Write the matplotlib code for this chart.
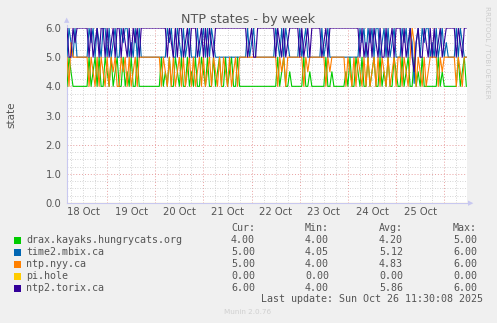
import numpy as np
import pandas as pd
import matplotlib
matplotlib.use("Agg")
import matplotlib.pyplot as plt
import matplotlib.dates as mdates
from matplotlib.patches import Rectangle

# hourly samples, starting Oct 18 04:00
start_time = "2025-10-18 04:00"

drax = [4, 5, 4.5, 4, 4, 4, 4, 4, 4, 4, 4, 5, 4, 4.5, 5, 4, 5, 4, 4, 5,
        4.5, 4, 5, 4, 4.5, 5, 4, 4, 5, 4, 4.5, 4, 5, 4, 4, 5, 4, 4, 4, 4,
        4, 4, 4, 4, 4, 4, 4, 5, 4, 4.5, 4, 5, 4, 4, 5, 4.5, 4, 5, 4, 4,
        5, 4, 4.5, 4, 5, 4, 4, 5, 4.5, 4, 5, 4, 4, 5, 4, 4.5, 5, 4, 4, 5,
        4, 4.5, 5, 4, 4, 5, 4, 4, 4, 4, 4, 4, 4, 4, 4, 4, 4, 4, 4, 4,
        4, 4, 4, 4, 4, 5, 4, 4.5, 5, 4, 4, 4.5, 4, 4, 4, 4, 4, 4, 5, 4,
        4, 4.5, 4, 4, 4, 4, 4, 4, 4, 5, 4, 4, 4.5, 4, 4, 4, 4, 4, 4, 4.5,
        4, 5, 4, 4, 5, 4.5, 4, 5, 4, 4, 5, 4, 4.5, 5, 4, 4, 5, 4, 4.5, 4,
        5, 4, 4, 5, 4.5, 4, 4, 5, 4, 4.5, 5, 4, 4, 5, 4, 4.5, 4, 5, 4, 4,
        4, 4, 4, 4, 4, 5, 4, 4.5, 4, 4, 4, 4, 4, 4, 4, 5, 4, 4.5, 5, 4]

time2 = [5, 6, 5.5, 5, 6, 5, 5, 5, 5, 5, 5, 6, 5.5, 6, 5, 6, 5.5, 5, 6, 6,
         5, 6, 5, 5.5, 6, 5, 5, 6, 5.5, 6, 6, 5, 5.5, 5, 6, 5, 6, 5, 5, 5,
         5, 5, 5, 5, 5, 5, 5, 5, 5, 5, 6, 5.5, 6, 5, 5, 6, 5.5, 5, 6, 5,
         5.5, 6, 5, 5, 5, 6, 5, 5.5, 6, 5, 6, 5, 6, 5.5, 5, 5, 5, 5, 5, 5,
         5, 5, 5, 5, 5, 5, 5, 5, 5, 5, 6, 5, 5.5, 6, 5, 5, 5, 5, 5, 5,
         5, 5, 5, 5, 6, 5.5, 5, 6, 5, 6, 5.5, 5, 5, 5, 5, 5, 6, 5, 5.5, 6,
         5, 5, 5, 5, 5, 5, 5, 6, 5, 5.5, 6, 5, 5, 5, 5, 5, 5, 5, 5, 5,
         5, 5, 5, 5, 5, 5, 6, 5.5, 6, 5, 6, 5.5, 6, 5, 6, 6, 5, 5.5, 6, 5,
         6, 5, 5.5, 6, 5, 5, 5, 6, 5.5, 6, 5, 6, 5.5, 4.1, 5.5, 6, 5, 6, 5.5, 6,
         6, 5, 5.5, 5, 6, 5, 5.5, 6, 5, 5.5, 5, 5, 5, 5, 6, 5, 6, 5.5, 5, 5]

nyy = [5, 4, 5.5, 5, 5, 5, 5, 5, 5, 5, 5, 4, 5, 4.5, 4, 5, 4, 5, 4.5, 4,
       5, 4, 5, 4.5, 5, 4, 4, 5, 4.5, 5, 4, 5, 4, 4.5, 5, 4, 5, 5, 5, 5,
       5, 5, 5, 5, 5, 5, 5, 4, 5, 4.5, 4, 5, 4, 5, 4, 4.5, 5, 4, 5, 4,
       4.5, 5, 4, 5, 4, 4.5, 5, 4, 5, 4, 4.5, 5, 4, 5, 4.5, 4, 5, 4, 5, 4.5,
       4, 5, 4, 4.5, 5, 4, 5, 5, 5, 5, 5, 5, 5, 5, 5, 5, 5, 5, 5, 5,
       5, 5, 5, 5, 5, 4, 5, 4.5, 5, 4, 5, 5, 5, 5, 5, 5, 5, 5, 4, 5,
       4.5, 5, 5, 5, 5, 5, 5, 5, 5, 4, 5, 4.5, 5, 5, 5, 5, 5, 5, 5, 4,
       5, 4.5, 4, 5, 4, 5, 4.5, 4, 5, 4, 5, 4, 4.5, 5, 4, 5, 4, 5, 4.5, 4,
       5, 4, 4.5, 5, 4, 5, 5, 4, 5, 4.5, 4, 5, 6, 5.5, 4, 5, 4.5, 4, 5, 4,
       4.5, 5, 5, 5, 5, 4, 5, 4.5, 5, 5, 5, 5, 5, 5, 4, 5, 4.5, 4, 5, 5]

# pi.hole reports 0 the whole week
pihole = [0.0] * len(drax)

torix = [6, 5, 5, 6, 5.5, 6, 6, 6, 6, 6, 6, 5, 6, 5, 5.5, 6, 5, 6, 6, 5,
         6, 5, 5.5, 6, 5, 6, 6, 5, 6, 5.5, 5, 6, 5, 6, 5.5, 6, 5, 6, 6, 6,
         6, 6, 6, 6, 6, 6, 6, 6, 6, 6, 5, 6, 5.5, 5, 6, 5, 6, 6, 5, 5.5,
         6, 5, 6, 6, 6, 5, 5.5, 6, 5, 6, 5, 6, 5.5, 5, 6, 6, 6, 6, 6, 6,
         6, 6, 6, 6, 6, 6, 6, 6, 6, 6, 5, 5.5, 6, 5, 5, 6, 6, 6, 6, 6,
         6, 6, 6, 6, 5, 6, 5.5, 5, 6, 5, 5.5, 6, 6, 6, 6, 6, 5, 6, 5, 5.5,
         6, 5, 6, 6, 6, 6, 6, 5, 5.5, 6, 5, 6, 6, 6, 6, 6, 6, 6, 6, 6,
         6, 6, 6, 6, 6, 6, 5, 6, 5, 5.5, 5, 6, 5, 6, 5.5, 5, 6, 5, 5, 6,
         5, 5.5, 6, 5, 6, 6, 6, 5, 6, 5, 5.5, 6, 5, 4.5, 5.5, 6, 5, 5, 6, 5.5,
         5, 6, 5, 6, 5, 5.5, 6, 5, 5.5, 6, 6, 6, 6, 6, 5, 6, 5.5, 5, 6, 6]

names = ["drax.kayaks.hungrycats.org", "time2.mbix.ca", "ntp.nyy.ca", "pi.hole", "ntp2.torix.ca"]
colors = ["#00CC00", "#0066B3", "#FF8000", "#FFCC00", "#330099"]
cur = ["4.00", "5.00", "5.00", "0.00", "6.00"]
mins = ["4.00", "4.05", "4.00", "0.00", "4.00"]
avgs = ["4.20", "5.12", "4.83", "0.00", "5.86"]
maxs = ["5.00", "6.00", "6.00", "0.00", "6.00"]

W, H = 497, 323


def fx(x):
    return x / W


def fy(y):
    return 1 - y / H


times = pd.date_range(start_time, periods=len(drax), freq="1h")
series = [drax, time2, nyy, pihole, torix]

fig = plt.figure(figsize=(W / 100, H / 100), dpi=100, facecolor="#F0F0F0")
ax = fig.add_axes([fx(67), fy(203), (467 - 67) / W, (203 - 28) / H])
ax.set_facecolor("white")

for vals, c in zip(series, colors):
    ax.plot(times, vals, color=c, linewidth=0.8, zorder=3)

ax.set_ylim(0, 6)
ax.set_xlim(pd.Timestamp("2025-10-18 04:00"), pd.Timestamp("2025-10-26 11:20"))

# grid: red dotted at midnight / whole units, gray dotted for minor
ax.set_yticks(np.arange(0, 6.01, 1.0))
ax.set_yticks(np.arange(0, 6.01, 0.25), minor=True)
ax.xaxis.set_major_locator(mdates.DayLocator())
ax.xaxis.set_minor_locator(mdates.HourLocator(byhour=[6, 12, 18]))
ax.grid(which="major", color="#E8A0A0", linestyle=(0, (1, 2)), linewidth=0.7)
ax.grid(which="minor", color="#C8C8C8", linestyle=(0, (1, 2)), linewidth=0.6)
ax.set_axisbelow(True)
ax.set_xticklabels([])
ax.tick_params(which="both", length=0)
ax.set_yticklabels(["%.1f" % v for v in np.arange(0, 6.01, 1.0)], fontsize=7.2, color="#555555")
ax.tick_params(axis="y", pad=4)

# day labels at noon
for d in range(18, 26):
    t = pd.Timestamp("2025-10-%02d 12:00" % d)
    ax.text(mdates.date2num(t), -0.15, "%d Oct" % d, ha="center", va="top",
            fontsize=7.2, color="#555555")

for s in ax.spines.values():
    s.set_visible(False)
ax.plot([0, 0], [0, 1.02], transform=ax.transAxes, color="#C8C8F0", linewidth=0.8, clip_on=False)
ax.plot([0, 1.01], [0, 0], transform=ax.transAxes, color="#C8C8F0", linewidth=0.8, clip_on=False, zorder=1)
fig.text(fx(67), fy(20), "\u25B2", ha="center", va="center", fontsize=5, color="#C8C8F0")
fig.text(fx(471), fy(203), "\u25B6", ha="center", va="center", fontsize=5, color="#C8C8F0")

fig.text(fx(248), fy(19), "NTP states - by week", ha="center", va="center", fontsize=9.2, color="#555555")
fig.text(fx(11), fy(115), "state", ha="center", va="center", rotation=90, fontsize=7.5, color="#555555")
fig.text(fx(487), fy(52), "RRDTOOL / TOBI OETIKER", ha="center", va="center", rotation=270,
         fontsize=5.2, color="#CCCCCC")

mono = "DejaVu Sans Mono"
fs = 7.2
gray = "#555555"
fig.text(fx(255), fy(228), "Cur:", ha="right", va="center", family=mono, fontsize=fs, color=gray)
fig.text(fx(329), fy(228), "Min:", ha="right", va="center", family=mono, fontsize=fs, color=gray)
fig.text(fx(403), fy(228), "Avg:", ha="right", va="center", family=mono, fontsize=fs, color=gray)
fig.text(fx(477), fy(228), "Max:", ha="right", va="center", family=mono, fontsize=fs, color=gray)

for i, name in enumerate(names):
    y = 240 + 12 * i
    fig.add_artist(Rectangle((fx(14), fy(y + 3.5)), 7 / W, 7 / H, transform=fig.transFigure,
                             facecolor=colors[i], edgecolor="none"))
    fig.text(fx(26), fy(y), name, ha="left", va="center", family=mono, fontsize=fs, color=gray)
    fig.text(fx(255), fy(y), cur[i], ha="right", va="center", family=mono, fontsize=fs, color=gray)
    fig.text(fx(329), fy(y), mins[i], ha="right", va="center", family=mono, fontsize=fs, color=gray)
    fig.text(fx(403), fy(y), avgs[i], ha="right", va="center", family=mono, fontsize=fs, color=gray)
    fig.text(fx(477), fy(y), maxs[i], ha="right", va="center", family=mono, fontsize=fs, color=gray)

fig.text(fx(483), fy(299), "Last update: Sun Oct 26 11:30:08 2025", ha="right", va="center",
         family=mono, fontsize=fs, color=gray)
fig.text(fx(248), fy(312), "Munin 2.0.76", ha="center", va="center", fontsize=5.2, color="#D0D0D0")

fig.savefig("out.png", dpi=100, facecolor=fig.get_facecolor())
